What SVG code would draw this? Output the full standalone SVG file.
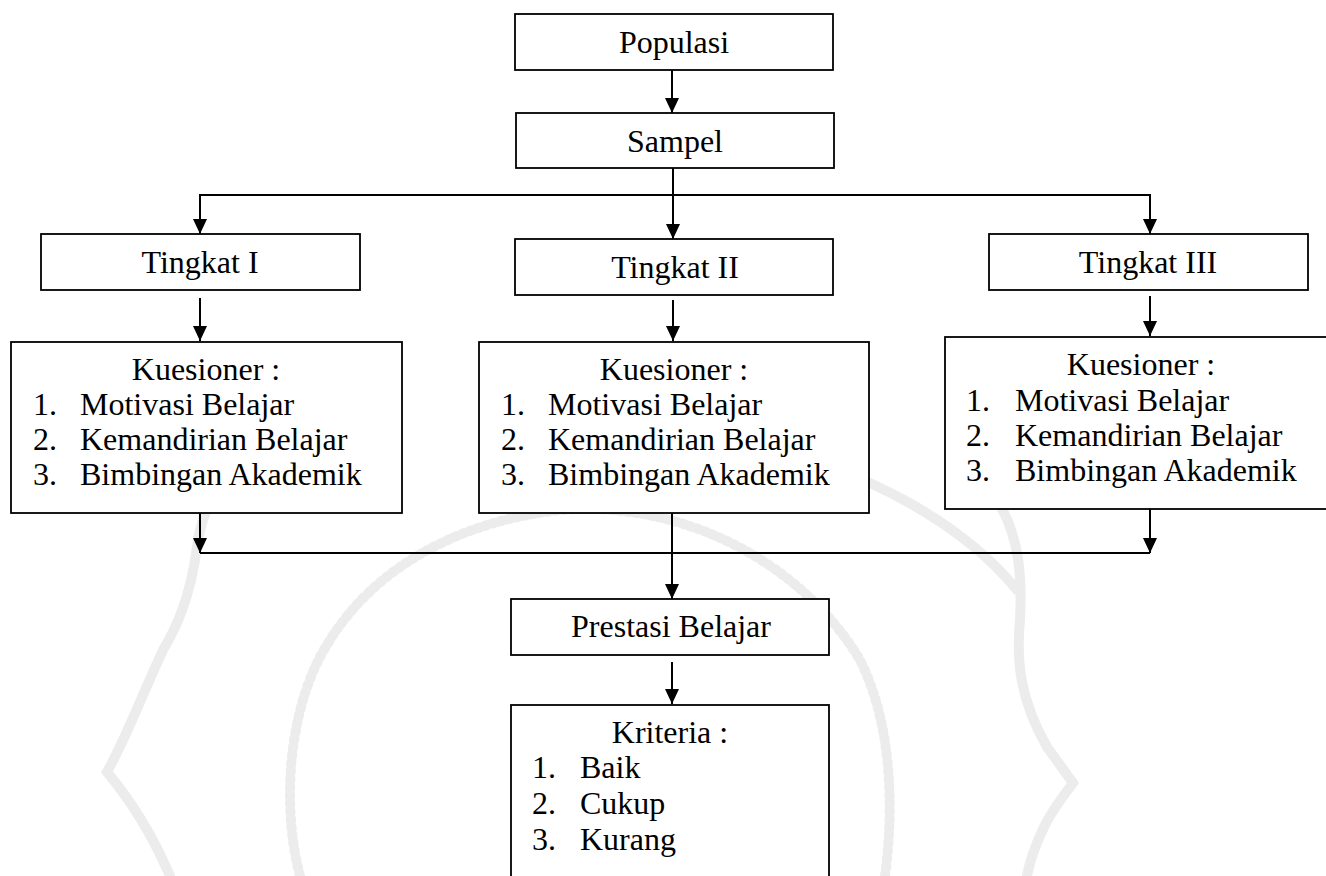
<svg xmlns="http://www.w3.org/2000/svg" width="1326" height="876" viewBox="0 0 1326 876">
<style>
.box{fill:#fff;stroke:#000;stroke-width:1.8}
.t{font-size:32px;fill:#000}
.c{text-anchor:middle}
.con{fill:none;stroke:#000;stroke-width:2}
.wm{fill:none;stroke:#ececec;stroke-width:10;stroke-linecap:round}
</style>
<defs>
<marker id="ah" markerUnits="userSpaceOnUse" markerWidth="15" markerHeight="14" refX="15" refY="7" orient="auto" viewBox="0 0 15 14">
<path d="M0,0 L15,7 L0,14 z" fill="#000"/>
</marker>
</defs>
<rect width="1326" height="876" fill="#fff"/>
<g id="watermark">
<path class="wm" d="M330,380 C260,430 205,480 197,547 C190,600 175,630 163,650 C140,700 125,740 107,772 C130,800 150,830 170,876"/>
<path class="wm" d="M1000,505 C1020,540 1022,580 1020,620 C1016,660 1020,700 1047,747 L1073,783 C1060,800 1050,815 1045,825 C1035,845 1030,860 1027,876"/>
<path class="wm" d="M300,876 C280,800 290,700 330,640 C380,560 470,520 560,510 C680,500 800,560 860,660 C890,720 895,800 885,876" stroke-width="24" stroke-dasharray="3 5" stroke-linecap="butt" stroke="#f1f1f1"/>
<path class="wm" d="M773,450 C860,470 960,520 1017,590" stroke="#f0f0f0"/>
</g>
<g id="connectors">
<path class="con" d="M672,70 V113" marker-end="url(#ah)"/>
<path class="con" d="M673,168 V195 H200 V234" marker-end="url(#ah)"/>
<path class="con" d="M673,195 V239" marker-end="url(#ah)"/>
<path class="con" d="M673,195 H1150 V234" marker-end="url(#ah)"/>
<path class="con" d="M200,298 V341" marker-end="url(#ah)"/>
<path class="con" d="M673,300 V341" marker-end="url(#ah)"/>
<path class="con" d="M1150,296 V336" marker-end="url(#ah)"/>
<path class="con" d="M200,513 V553" marker-end="url(#ah)"/>
<path class="con" d="M1150,509 V553" marker-end="url(#ah)"/>
<path class="con" d="M200,553 H1150"/>
<path class="con" d="M672,513 V599" marker-end="url(#ah)"/>
<path class="con" d="M672,662 V704" marker-end="url(#ah)"/>
</g>
<g font-family="'Liberation Serif', 'Times New Roman', Times, 'DejaVu Serif', serif">
<g id="populasi">
<rect class="box" x="515" y="14" width="318" height="56"/>
<text class="t c" x="674" y="53">Populasi</text>
</g>
<g id="sampel">
<rect class="box" x="516" y="113" width="318" height="55"/>
<text class="t c" x="675" y="152">Sampel</text>
</g>
<g id="tingkat1">
<rect class="box" x="41" y="234" width="319" height="56"/>
<text class="t c" x="200" y="273">Tingkat I</text>
</g>
<g id="tingkat2">
<rect class="box" x="515" y="239" width="318" height="56"/>
<text class="t c" x="675" y="278">Tingkat II</text>
</g>
<g id="tingkat3">
<rect class="box" x="989" y="234" width="319" height="56"/>
<text class="t c" x="1148" y="273">Tingkat III</text>
</g>
<g id="kuesioner1">
<rect class="box" x="11" y="342" width="391" height="171"/>
<text class="t c" x="206" y="380">Kuesioner :</text>
<text class="t" x="33" y="415">1.</text><text class="t" x="80" y="415">Motivasi Belajar</text>
<text class="t" x="33" y="450">2.</text><text class="t" x="80" y="450">Kemandirian Belajar</text>
<text class="t" x="33" y="485">3.</text><text class="t" x="80" y="485">Bimbingan Akademik</text>
</g>
<g id="kuesioner2">
<rect class="box" x="479" y="342" width="390" height="171"/>
<text class="t c" x="674" y="380">Kuesioner :</text>
<text class="t" x="501" y="415">1.</text><text class="t" x="548" y="415">Motivasi Belajar</text>
<text class="t" x="501" y="450">2.</text><text class="t" x="548" y="450">Kemandirian Belajar</text>
<text class="t" x="501" y="485">3.</text><text class="t" x="548" y="485">Bimbingan Akademik</text>
</g>
<g id="kuesioner3">
<rect class="box" x="945" y="337" width="400" height="172"/>
<text class="t c" x="1141" y="375">Kuesioner :</text>
<text class="t" x="966" y="411">1.</text><text class="t" x="1015" y="411">Motivasi Belajar</text>
<text class="t" x="966" y="446">2.</text><text class="t" x="1015" y="446">Kemandirian Belajar</text>
<text class="t" x="966" y="481">3.</text><text class="t" x="1015" y="481">Bimbingan Akademik</text>
</g>
<g id="prestasi">
<rect class="box" x="511" y="599" width="318" height="56"/>
<text class="t c" x="671" y="637">Prestasi Belajar</text>
</g>
<g id="kriteria">
<rect class="box" x="511" y="705" width="318" height="200"/>
<text class="t c" x="670" y="743">Kriteria :</text>
<text class="t" x="532" y="778">1.</text><text class="t" x="580" y="778">Baik</text>
<text class="t" x="532" y="814">2.</text><text class="t" x="580" y="814">Cukup</text>
<text class="t" x="532" y="850">3.</text><text class="t" x="580" y="850">Kurang</text>
</g>
</g>
</svg>
